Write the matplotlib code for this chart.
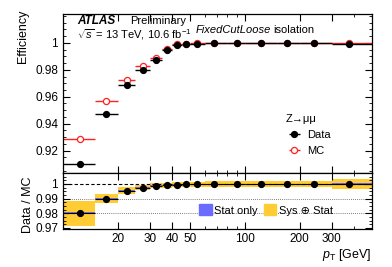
import numpy as np
import matplotlib
matplotlib.use('Agg')
import matplotlib.pyplot as plt
from matplotlib.ticker import FixedLocator, MultipleLocator, NullFormatter, FixedFormatter
from matplotlib.patches import Patch

plt.rcParams['font.family'] = ['Liberation Sans', 'DejaVu Sans']
plt.rcParams['mathtext.fontset'] = 'custom'
plt.rcParams['mathtext.rm'] = 'Liberation Sans'
plt.rcParams['mathtext.it'] = 'Liberation Sans:italic'
plt.rcParams['mathtext.bf'] = 'Liberation Sans:bold'

# bins in pT [GeV]
bin_edges = [10, 15, 20, 25, 30, 35, 40, 45, 50, 60, 80, 100, 150, 200, 300, 500]
pt_mean = [12.4, 17.3, 22.4, 27.4, 32.4, 37.4, 42.4, 47.4, 54.5, 68, 90, 123, 170, 240, 375]

eff_data = [0.9103, 0.9473, 0.9685, 0.9801, 0.9876, 0.9946, 0.9985, 0.9990, 0.9994,
            0.9996, 0.9996, 0.9996, 0.9996, 0.9996, 0.9995]
eff_mc = [0.9287, 0.9568, 0.9727, 0.9826, 0.9888, 0.9952, 0.9989, 0.9993, 0.9996,
          0.9997, 0.9997, 0.9997, 0.9997, 0.9997, 0.9997]

sf = [0.9800, 0.9900, 0.9955, 0.9975, 0.9987, 0.9993, 0.9996, 0.9997, 0.9998,
      0.9999, 0.9999, 0.9999, 0.9999, 0.9999, 0.9998]
sf_stat = [0.0008, 0.0005, 0.0004, 0.0003, 0.0003, 0.0003, 0.0003, 0.0003, 0.0003,
           0.0003, 0.0003, 0.0003, 0.0003, 0.0004, 0.0008]
sf_tot = [0.0085, 0.0033, 0.0022, 0.0018, 0.0017, 0.0017, 0.0017, 0.0017, 0.0018,
          0.0019, 0.0020, 0.0020, 0.0020, 0.0020, 0.0033]

edges = np.array(bin_edges, dtype=float)
x = np.array(pt_mean)
xlo = x - edges[:-1]
xhi = edges[1:] - x

yellow = '#ffcc33'
blue = '#6b6bff'

fig = plt.figure(figsize=(3.92, 2.67), dpi=100)
ax = fig.add_axes([63/392, 1-173/267, 309/392, 159/267])
rx = fig.add_axes([63/392, 1-229/267, 309/392, 56/267], sharex=ax)

# main panel
hd = ax.errorbar(x, eff_data, xerr=[xlo, xhi], fmt='o', color='black', ms=4.2,
                 elinewidth=1.0, capsize=0, zorder=3)
hm = ax.errorbar(x, eff_mc, xerr=[xlo, xhi], fmt='o', color='#ff2020', mfc='white',
                 mec='#ff2020', ms=4.4, mew=0.9, elinewidth=1.0, capsize=0, zorder=2)

ax.set_xscale('log')
ax.set_xlim(10, 500)
ax.set_ylim(0.9034, 1.0214)
ax.yaxis.set_major_locator(FixedLocator([0.92, 0.94, 0.96, 0.98, 1.0]))
ax.yaxis.set_major_formatter(FixedFormatter(['0.92', '0.94', '0.96', '0.98', '1']))
ax.yaxis.set_minor_locator(MultipleLocator(0.005))

ax.text(0.045, 0.955, 'ATLAS', transform=ax.transAxes, fontsize=8.5,
        fontweight='bold', fontstyle='italic', va='center')
ax.text(0.218, 0.955, 'Preliminary', transform=ax.transAxes, fontsize=8, va='center')
ax.text(0.045, 0.873, r'$\sqrt{s}$ = 13 TeV, 10.6 fb$^{-1}$', transform=ax.transAxes,
        fontsize=8, va='center')
ax.text(0.43, 0.9, 'FixedCutLoose', transform=ax.transAxes, fontsize=8,
        fontstyle='italic', va='center')
ax.text(0.68, 0.9, 'isolation', transform=ax.transAxes, fontsize=8, va='center')

leg = ax.legend([hd, hm], ['Data', 'MC'], title='Z\u2192\u03bc\u03bc', loc='upper left',
                bbox_to_anchor=(0.7, 0.41), frameon=False, fontsize=8, title_fontsize=8,
                handlelength=1.5, handletextpad=0.4, labelspacing=0.5, borderpad=0.1)
leg._legend_box.align = 'left'

# ratio panel
for i in range(len(sf)):
    rx.fill_between([edges[i], edges[i+1]], sf[i]-sf_tot[i], sf[i]+sf_tot[i],
                    color=yellow, lw=0, zorder=1)
    rx.fill_between([edges[i], edges[i+1]], sf[i]-sf_stat[i], sf[i]+sf_stat[i],
                    color=blue, lw=0, zorder=2)
rx.axhline(1.0, color='black', ls=(0, (3, 2)), lw=0.8, zorder=3)
for yl in [0.99, 0.98]:
    rx.axhline(yl, color='#555555', ls=(0, (1, 1.5)), lw=0.6, zorder=0)
rx.errorbar(x, sf, xerr=[xlo, xhi], fmt='o', color='black', ms=4.2,
            elinewidth=0.8, capsize=0, zorder=4)
rx.set_ylim(0.9693, 1.0075)
rx.yaxis.set_major_locator(FixedLocator([0.97, 0.98, 0.99, 1.0]))
rx.yaxis.set_major_formatter(FixedFormatter(['0.97', '0.98', '0.99', '1']))
rx.yaxis.set_minor_locator(MultipleLocator(0.0025))

rx.legend([Patch(color=blue), Patch(color=yellow)], ['Stat only', 'Sys \u2295 Stat'],
          ncol=2, loc='center left', bbox_to_anchor=(0.42, 0.34), frameon=False,
          fontsize=8, handlelength=1.1, handleheight=1.1, handletextpad=0.2,
          columnspacing=0.6, borderpad=0.1)

major_x = [20, 30, 40, 50, 100, 200, 300]
minor_x = [60, 70, 80, 90, 400]
for a in (ax, rx):
    a.xaxis.set_major_locator(FixedLocator(major_x))
    a.xaxis.set_minor_locator(FixedLocator(minor_x))
    a.xaxis.set_minor_formatter(NullFormatter())
    a.tick_params(which='both', direction='in', top=True, right=True, labelsize=8.5)
    a.tick_params(which='major', length=5, width=0.8)
    a.tick_params(which='minor', length=2.5, width=0.6)
    for s in a.spines.values():
        s.set_linewidth(0.9)
ax.tick_params(labelbottom=False)
rx.xaxis.set_major_formatter(FixedFormatter([str(v) for v in major_x]))
rx.tick_params(axis='x', pad=3)

fig.text(23/392, 1-10/267, 'Efficiency', rotation=90, ha='center', va='top', fontsize=9)
fig.text(28/392, 1-205/267, 'Data / MC', rotation=90, ha='center', va='center', fontsize=9)
fig.text(372/392, 1-255/267, r'$p_{\mathrm{T}}$ [GeV]', ha='right', va='center', fontsize=9)

fig.savefig('out.png', dpi=100)
